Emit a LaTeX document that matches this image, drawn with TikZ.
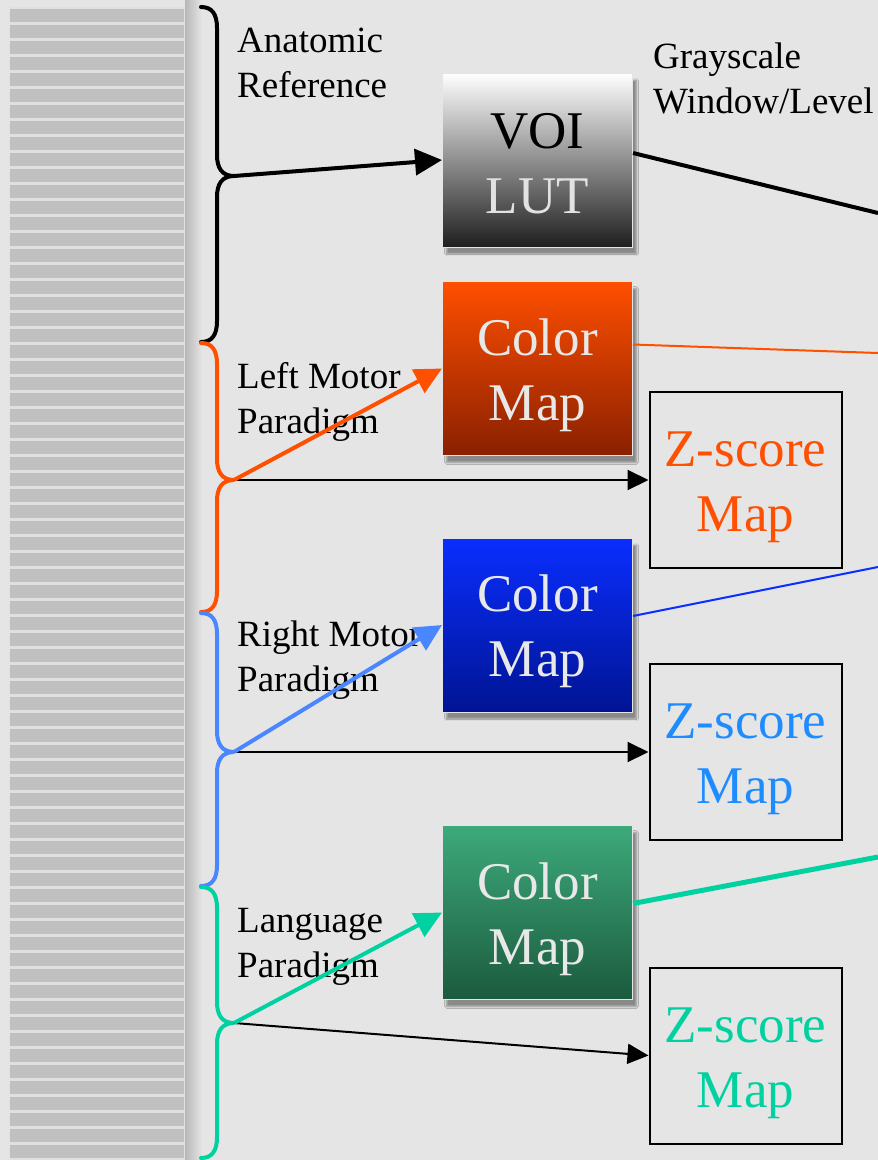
\documentclass[tikz,border=0pt]{standalone}
\usepackage{fontspec}
\setmainfont{Liberation Serif}
\usetikzlibrary{arrows.meta,shadows.blur}
\definecolor{bg}{HTML}{E5E5E5}
\definecolor{stripe}{HTML}{C0C0C0}
\definecolor{gapc}{HTML}{E0E0E0}
\definecolor{orng}{HTML}{FF4F00}
\definecolor{orngdark}{HTML}{8A2000}
\definecolor{bluetop}{HTML}{0A2EFF}
\definecolor{bluedark}{HTML}{001492}
\definecolor{bluebrace}{HTML}{4A86FF}
\definecolor{bluetext}{HTML}{1E8CFF}
\definecolor{bluethin}{HTML}{0A2EFF}
\definecolor{grn}{HTML}{00D1A0}
\definecolor{grntop}{HTML}{3DAA7B}
\definecolor{grndark}{HTML}{1B5A3E}
\definecolor{boxtext}{HTML}{E8E8E8}
\definecolor{lutgray}{HTML}{E2E2E2}
\newcommand\lowstrut{\rule{0pt}{50pt}}
\tikzset{
  lbl/.style={font=\fontsize{37}{45}\selectfont, align=left, inner sep=0pt, anchor=north west},
  cmap/.style={minimum width=190pt, minimum height=174pt, inner sep=0pt, draw=white!80!gray, line width=1pt,
    font=\fontsize{53}{65}\selectfont, align=center, text=boxtext,
    blur shadow={shadow xshift=4pt, shadow yshift=-7pt, shadow blur steps=6, shadow opacity=40}},
  zbox/.style={minimum width=192pt, minimum height=176pt, inner sep=0pt, draw=black, line width=2pt,
    font=\fontsize{53}{65}\selectfont, align=center},
  bracestyle/.style={line width=4pt, line cap=round},
  thickarrow/.style={line width=4pt, -{Triangle[length=27pt,width=26pt]}},
  thinarrow/.style={line width=2pt, draw=black, -{Triangle[length=21pt,width=20pt]}}
}
\newcommand\mybrace[4]{% color, top y, tip y, bottom y
  \draw[bracestyle, #1] (201,#2) .. controls (212,#2) and (217,#2+7) .. (217,#2+21)
    -- (217,#3-21) .. controls (217,#3-8) and (222,#3) .. (234,#3)
    .. controls (222,#3) and (217,#3+8) .. (217,#3+21)
    -- (217,#4-21) .. controls (217,#4-7) and (212,#4) .. (201,#4);
}
\begin{document}
\begin{tikzpicture}[x=1pt,y=-1pt]
\useasboundingbox (0,0) rectangle (878,1160);
\fill[bg] (0,0) rectangle (878,1160);
% left striped panel
\shade[left color=black!28, right color=bg] (185,0) rectangle (202,1160);
\fill[gapc] (9,7) rectangle (185,1160);
\foreach \i in {0,...,71} {
  \fill[stripe] (10,9+16*\i) rectangle (184,22+16*\i);
}
% braces
\mybrace{black}{7}{176}{342}
\mybrace{orng}{343}{480}{612}
\mybrace{bluebrace}{613}{752}{886}
\mybrace{grn}{887}{1023}{1158}
\coordinate (t0) at (234,176);
\coordinate (t1) at (234,480);
\coordinate (t2) at (234,752);
\coordinate (t3) at (234,1023);
% labels
\node[lbl] (l0) at (237,28) {Anatomic\\Reference};
\node[lbl] (l1) at (237,362) {Left Motor\\Paradigm};
\node[lbl] (l2) at (237,621) {Right Motor\\Paradigm};
\node[lbl] (l3) at (237,908) {Language\\Paradigm};
\node[lbl] (l4) at (653,43) {Grayscale\\Window/Level};
% boxes
\node[cmap, top color=white, bottom color=black!88, text=black] (voi) at (537.5,160) {\rule{0pt}{42pt}VOI\\\textcolor{lutgray}{LUT}};
\node[cmap, top color=orng, bottom color=orngdark] (cm1) at (537.5,368.5) {\lowstrut Color\\Map};
\node[cmap, top color=bluetop, bottom color=bluedark] (cm2) at (537.5,625) {\lowstrut Color\\Map};
\node[cmap, top color=grntop, bottom color=grndark] (cm3) at (537.5,912.5) {\lowstrut Color\\Map};
\node[zbox, text=orng] (z1) at (745.5,480) {\lowstrut Z-score\\Map};
\node[zbox, text=bluetext] (z2) at (745.5,752) {\lowstrut Z-score\\Map};
\node[zbox, text=grn] (z3) at (745.5,1055.5) {\lowstrut Z-score\\Map};
% outgoing free ends
\coordinate (o0) at (878,213);
\coordinate (o1) at (878,353);
\coordinate (o2) at (878,567);
\coordinate (o3) at (878,857);
% connectors
\draw[thickarrow, black] (t0) -- (voi.west);
\draw[thinarrow] (t1) -- (z1.west);
\draw[thickarrow, orng] (t1) -- (cm1.west);
\draw[thinarrow] (t2) -- (z2.west);
\draw[thickarrow, bluebrace] (t2) -- (cm2.west);
\draw[thinarrow] (t3) -- (z3.west);
\draw[thickarrow, grn] (t3) -- (cm3.west);
\draw[line width=4pt, black] ([yshift=7pt]voi.east) -- (o0);
\draw[line width=2pt, orng] ([yshift=24pt]cm1.east) -- (o1);
\draw[line width=2pt, bluethin] ([yshift=9pt]cm2.east) -- (o2);
\draw[line width=5pt, grn] ([yshift=9pt]cm3.east) -- (o3);
\end{tikzpicture}
\end{document}
